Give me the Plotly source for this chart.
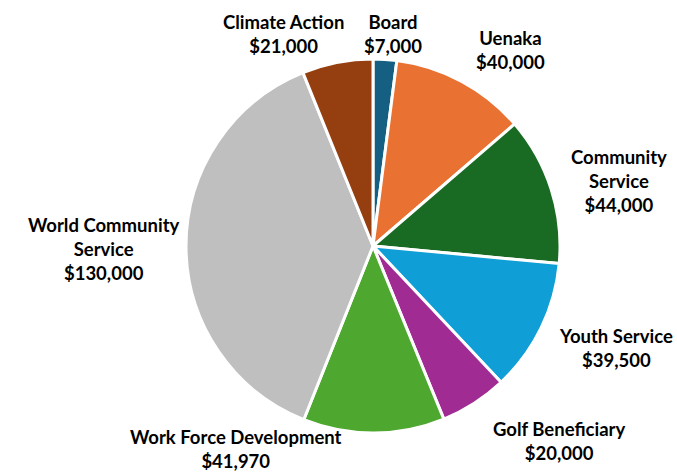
import plotly.graph_objects as go

categories = ["Board", "Uenaka", "Community Service", "Youth Service",
              "Golf Beneficiary", "Work Force Development",
              "World Community Service", "Climate Action"]
values = [7000, 40000, 44000, 39500, 20000, 41970, 130000, 21000]
label_lines = ["Board", "Uenaka", "Community<br>Service", "Youth Service",
               "Golf Beneficiary", "Work Force Development",
               "World Community<br>Service", "Climate Action"]

colors = ["#156082", "#E97132", "#196B24", "#0F9ED5",
          "#A02B93", "#4EA72E", "#BFBFBF", "#953E0F"]

# label anchor positions in pixels (center x, center y of text block)
label_pos = [(393, 34), (511, 50), (619, 181), (616, 348),
             (559, 441), (236, 449), (104, 249), (283, 34)]

W, H = 677, 472

fig = go.Figure(go.Pie(
    labels=categories, values=values, sort=False, direction="clockwise",
    rotation=0, textinfo="none", hoverinfo="label+value",
    marker=dict(colors=colors, line=dict(color="white", width=3)),
    domain=dict(x=[186 / W, 560 / W], y=[(H - 433) / H, (H - 59) / H]),
    showlegend=False,
))

for txt, v, (px, py) in zip(label_lines, values, label_pos):
    fig.add_annotation(
        x=px / W, y=1 - py / H, xref="paper", yref="paper",
        text=f"<b>{txt}<br>${v:,.0f}</b>", showarrow=False,
        xanchor="center", yanchor="middle", align="center",
        font=dict(family="Lato", size=18.5, color="black"),
    )

fig.update_layout(width=W, height=H, margin=dict(l=0, r=0, t=0, b=0),
                  paper_bgcolor="white", plot_bgcolor="white")
fig.write_html("out.html", config={"displayModeBar": False},
               post_script="document.body.style.margin='0';document.body.style.overflow='hidden';")
